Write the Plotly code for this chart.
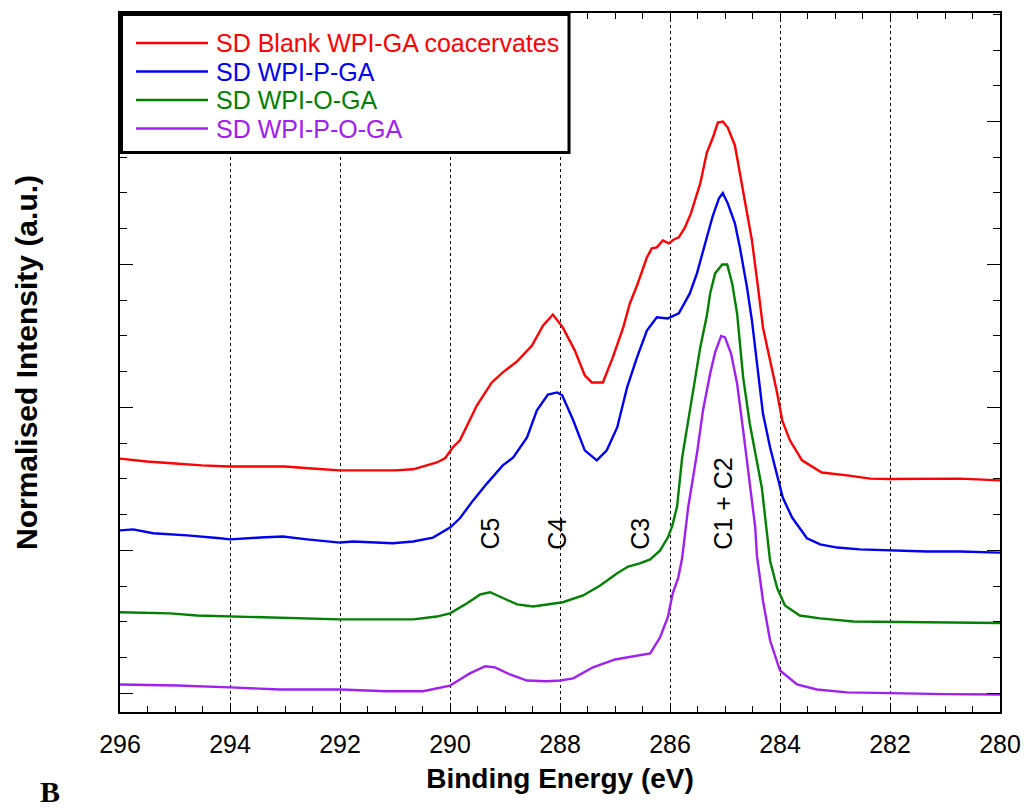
import plotly.graph_objects as go

# ---- C 1s spectra (binding energy in eV, normalised intensity 0..1) ----
energy_blank = [296.00, 295.51, 295.00, 294.51, 294.00, 293.51, 293.00, 292.51, 292.00, 291.51,
                291.00, 290.67, 290.24, 290.09, 289.95, 289.82, 289.64, 289.51, 289.24, 289.04,
                288.78, 288.51, 288.31, 288.13, 287.95, 287.73, 287.55, 287.42, 287.22, 287.04,
                286.85, 286.73, 286.60, 286.42, 286.33, 286.24, 286.13, 286.02, 285.93, 285.84,
                285.73, 285.62, 285.45, 285.33, 285.22, 285.13, 285.04, 284.95, 284.82, 284.73,
                284.64, 284.51, 284.40, 284.31, 284.18, 284.05, 283.96, 283.82, 283.60, 283.24,
                282.78, 282.36, 282.00, 281.33, 280.73, 280.00]
intensity_blank = [0.057, 0.049, 0.043, 0.038, 0.035, 0.035, 0.035, 0.029, 0.024, 0.024,
                   0.024, 0.027, 0.046, 0.058, 0.088, 0.108, 0.164, 0.206, 0.270, 0.298,
                   0.329, 0.373, 0.429, 0.460, 0.424, 0.359, 0.290, 0.270, 0.270, 0.340,
                   0.424, 0.491, 0.541, 0.620, 0.645, 0.648, 0.667, 0.659, 0.670, 0.676,
                   0.703, 0.743, 0.827, 0.913, 0.955, 0.997, 1.000, 0.983, 0.933, 0.855,
                   0.779, 0.667, 0.536, 0.424, 0.331, 0.239, 0.164, 0.108, 0.052, 0.018,
                   0.010, 0.001, 0.000, 0.000, 0.001, -0.004]

energy_p = [296.00, 295.76, 295.40, 294.78, 294.18, 294.00, 293.45, 293.04, 292.60, 292.00,
            291.76, 291.04, 290.67, 290.31, 290.00, 289.82, 289.58, 289.33, 289.04, 288.85,
            288.60, 288.42, 288.22, 288.05, 287.96, 287.76, 287.55, 287.33, 287.15, 286.96,
            286.78, 286.60, 286.42, 286.24, 286.04, 285.84, 285.64, 285.51, 285.33, 285.22,
            285.11, 285.04, 284.95, 284.82, 284.73, 284.60, 284.51, 284.42, 284.31, 284.18,
            284.05, 283.95, 283.78, 283.51, 283.27, 282.96, 282.55, 282.00, 281.33, 280.73,
            280.00]
intensity_p = [0.056, 0.059, 0.048, 0.042, 0.034, 0.031, 0.036, 0.039, 0.031, 0.022,
               0.025, 0.020, 0.025, 0.036, 0.064, 0.090, 0.140, 0.187, 0.238, 0.260,
               0.316, 0.392, 0.436, 0.442, 0.434, 0.364, 0.280, 0.252, 0.280, 0.344,
               0.456, 0.540, 0.615, 0.652, 0.649, 0.663, 0.719, 0.775, 0.876, 0.937,
               0.985, 1.000, 0.971, 0.915, 0.848, 0.736, 0.643, 0.531, 0.383, 0.288,
               0.204, 0.148, 0.092, 0.034, 0.017, 0.008, 0.003, 0.000, -0.003, -0.003,
               -0.006]

energy_o = [296.00, 295.09, 294.60, 294.00, 293.33, 292.60, 292.00, 291.40, 290.67, 290.24,
            290.00, 289.69, 289.45, 289.27, 289.09, 288.78, 288.49, 288.13, 287.95, 287.58,
            287.27, 286.96, 286.76, 286.55, 286.36, 286.18, 286.04, 285.96, 285.87, 285.78,
            285.67, 285.55, 285.45, 285.33, 285.27, 285.18, 285.05, 284.96, 284.87, 284.78,
            284.67, 284.55, 284.42, 284.33, 284.24, 284.18, 284.05, 283.91, 283.64, 283.27,
            282.67, 282.00, 281.33, 280.00]
intensity_o = [0.027, 0.024, 0.018, 0.015, 0.013, 0.010, 0.007, 0.007, 0.007, 0.015,
               0.024, 0.052, 0.077, 0.083, 0.071, 0.049, 0.043, 0.052, 0.055, 0.074,
               0.102, 0.136, 0.155, 0.164, 0.175, 0.200, 0.236, 0.268, 0.324, 0.459,
               0.564, 0.676, 0.768, 0.857, 0.919, 0.975, 1.000, 1.000, 0.947, 0.863,
               0.684, 0.555, 0.443, 0.375, 0.252, 0.170, 0.094, 0.046, 0.018, 0.010,
               0.001, 0.000, 0.000, -0.003]

energy_po = [296.00, 294.96, 294.00, 293.09, 292.00, 291.15, 290.49, 290.18, 290.00, 289.82,
             289.64, 289.36, 289.18, 288.91, 288.60, 288.24, 288.00, 287.76, 287.40, 287.00,
             286.67, 286.36, 286.18, 286.04, 285.95, 285.85, 285.78, 285.67, 285.51, 285.40,
             285.27, 285.18, 285.07, 285.00, 284.89, 284.78, 284.67, 284.55, 284.45, 284.42,
             284.31, 284.18, 284.00, 283.69, 283.33, 282.78, 282.00, 281.00, 280.00]
intensity_po = [0.025, 0.022, 0.017, 0.011, 0.011, 0.006, 0.006, 0.017, 0.022, 0.039,
                0.056, 0.076, 0.073, 0.053, 0.036, 0.034, 0.036, 0.042, 0.073, 0.095,
                0.103, 0.112, 0.157, 0.213, 0.280, 0.324, 0.378, 0.520, 0.671, 0.792,
                0.895, 0.954, 1.000, 0.996, 0.951, 0.867, 0.736, 0.596, 0.464, 0.386,
                0.260, 0.148, 0.064, 0.025, 0.011, 0.003, 0.000, -0.002, -0.003]

series_names = ["SD Blank WPI-GA coacervates", "SD WPI-P-GA", "SD WPI-O-GA", "SD WPI-P-O-GA"]
series_energy = [energy_blank, energy_p, energy_o, energy_po]
series_intensity = [intensity_blank, intensity_p, intensity_o, intensity_po]
series_offset = [0.6, 0.4, 0.2, 0.0]
series_colors = ["#FF0000", "#0000F0", "#008000", "#A020F0"]

# fitted component positions (eV)
component_labels = ["C5", "C4", "C3", "C1 + C2"]
component_energy = [289.29, 288.07, 286.56, 285.05]

x_ticks = [296, 294, 292, 290, 288, 286, 284, 282, 280]

# ---- layout geometry (px) ----
W, H = 1024, 809
ML, MR, MT, MB = 120, 24, 13, 97
PW, PH = W - ML - MR, H - MT - MB
FONT = "Liberation Sans, Arial, sans-serif"


def px_to_paper(x, y):
    return (x - ML) / PW, (H - MB - y) / PH


fig = go.Figure()
for name, ex, iy, off, col in zip(series_names, series_energy, series_intensity,
                                  series_offset, series_colors):
    fig.add_trace(go.Scatter(
        x=ex, y=[v + off for v in iy], mode="lines", name=name,
        line=dict(color=col, width=2.4), showlegend=False,
    ))

for lab, e in zip(component_labels, component_energy):
    fig.add_annotation(x=e, y=0.397, xref="x", yref="y", text=lab, textangle=-90,
                       showarrow=False, xanchor="center", yanchor="bottom",
                       font=dict(family=FONT, size=25, color="black"))

# legend box drawn on top of the frame
x0, y0 = px_to_paper(121.5, 14.5)
x1, y1 = px_to_paper(569, 152.5)
fig.add_shape(type="rect", xref="paper", yref="paper", x0=x0, x1=x1, y0=y1, y1=y0,
              line=dict(color="black", width=3), fillcolor="white", layer="above")
row_y = [43, 71.5, 100, 128.5]
for name, col, ry in zip(series_names, series_colors, row_y):
    lx0, ly = px_to_paper(136, ry)
    lx1, _ = px_to_paper(208, ry)
    fig.add_shape(type="line", xref="paper", yref="paper", x0=lx0, x1=lx1, y0=ly, y1=ly,
                  line=dict(color=col, width=2.5), layer="above")
    tx, _ = px_to_paper(214, ry)
    fig.add_annotation(x=tx, y=ly, xref="paper", yref="paper", text=name, showarrow=False,
                       xanchor="left", yanchor="middle",
                       font=dict(family=FONT, size=25, color=col))

# panel letter
bx, by = px_to_paper(50, 809)
fig.add_annotation(x=bx, y=by, xref="paper", yref="paper", text="<b>B</b>", showarrow=False,
                   xanchor="center", yanchor="bottom", borderpad=0,
                   font=dict(family="Liberation Serif, Times New Roman, serif", size=30,
                             color="black"))

fig.update_layout(
    width=W, height=H,
    margin=dict(l=ML, r=MR, t=MT, b=MB, autoexpand=False),
    paper_bgcolor="white", plot_bgcolor="white",
    font=dict(family=FONT, color="black"),
    showlegend=False,
)
fig.update_xaxes(
    range=[296, 280], tickvals=x_ticks, ticktext=[str(t) for t in x_ticks],
    ticks="inside", ticklen=6, tickwidth=1, tickcolor="black",
    minor=dict(dtick=0.5, tick0=280, ticks="inside", ticklen=6, tickwidth=1,
               tickcolor="black", showgrid=False),
    showgrid=True, gridcolor="black", gridwidth=1, griddash="dot",
    showline=True, linecolor="black", linewidth=1.5, mirror="ticks",
    zeroline=False, tickfont=dict(family=FONT, size=25, color="black"),
    ticklabelstandoff=9,
    title=dict(text="<b>Binding Energy (eV)</b>", font=dict(family=FONT, size=28),
               standoff=12),
)
fig.update_yaxes(
    range=[-0.052, 1.9035], tick0=0, dtick=0.4,
    ticks="inside", ticklen=13, tickwidth=1, tickcolor="black",
    minor=dict(dtick=0.1, tick0=0, ticks="inside", ticklen=7, tickwidth=1,
               tickcolor="black", showgrid=False),
    showticklabels=False, showgrid=False,
    showline=True, linecolor="black", linewidth=1.5, mirror="ticks",
    zeroline=False,
    title=dict(text="<b>Normalised Intensity (a.u.)</b>", font=dict(family=FONT, size=30),
               standoff=72),
)

fig.write_html("out.html")
